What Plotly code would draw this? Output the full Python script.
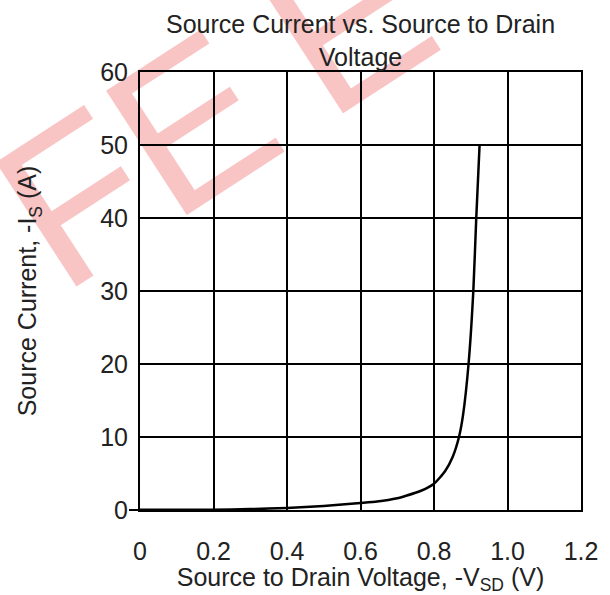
import plotly.graph_objects as go

# Data
vsd = [0.0, 0.2, 0.3, 0.4, 0.5, 0.6, 0.645, 0.7, 0.724, 0.763, 0.8, 0.83, 0.851,
       0.868, 0.879, 0.894, 0.907, 0.915, 0.924]
i_s = [0.02, 0.05, 0.12, 0.27, 0.55, 0.95, 1.15, 1.6, 1.95, 2.6, 3.6, 5.3, 7.3,
       10.0, 13.0, 20.0, 30.0, 40.0, 50.0]

x_ticks = [0, 0.2, 0.4, 0.6, 0.8, 1.0, 1.2]
x_tick_labels = ["0", "0.2", "0.4", "0.6", "0.8", "1.0", "1.2"]
y_ticks = [0, 10, 20, 30, 40, 50, 60]
y_tick_labels = ["0", "10", "20", "30", "40", "50", "60"]

FONT = "Liberation Sans, Arial, sans-serif"
TXT = "#222"

fig = go.Figure()
fig.add_trace(go.Scatter(x=vsd, y=i_s, mode="lines",
                         line=dict(color="black", width=2.5, shape="spline", smoothing=0.5),
                         showlegend=False, hoverinfo="skip"))
# invisible trace on the overlay axis (for the small tick at 0)
fig.add_trace(go.Scatter(x=[0], y=[0], yaxis="y2", mode="markers",
                         marker=dict(opacity=0), showlegend=False, hoverinfo="skip"))

fig.update_layout(
    width=610, height=595,
    margin=dict(l=140, r=23, t=72, b=78),
    paper_bgcolor="white", plot_bgcolor="rgba(0,0,0,0)",
    font=dict(family=FONT, size=25, color=TXT),
    xaxis=dict(range=[0, 1.2], tickvals=x_ticks, ticktext=x_tick_labels,
               showgrid=True, gridcolor="black", gridwidth=2,
               showline=True, linecolor="black", linewidth=2, mirror=True,
               ticks="outside", ticklen=18, tickcolor="rgba(0,0,0,0)",
               zeroline=False, tickfont=dict(size=25),
               title=dict(text="Source to Drain Voltage, -V<sub>SD</sub> (V)", standoff=0,
                          font=dict(family=FONT, size=25, color=TXT))),
    yaxis=dict(range=[0, 60], tickvals=y_ticks, ticktext=y_tick_labels,
               showgrid=True, gridcolor="black", gridwidth=2,
               showline=True, linecolor="black", linewidth=2, mirror=True,
               ticks="outside", ticklen=5, tickcolor="rgba(0,0,0,0)",
               zeroline=False, tickfont=dict(size=25),
               title=dict(text="Source Current, -I<sub>S</sub> (A)", standoff=56,
                          font=dict(family=FONT, size=25, color=TXT))),
    yaxis2=dict(range=[0, 60], overlaying="y", side="left", tickvals=[0],
                ticks="outside", ticklen=10, tickwidth=2, tickcolor="black",
                showticklabels=False, showgrid=False, showline=False, zeroline=False),
    annotations=[dict(text="Source Current vs. Source to Drain<br>Voltage",
                      xref="paper", yref="paper", x=0.5, y=1.145,
                      xanchor="center", yanchor="top", showarrow=False,
                      font=dict(family=FONT, size=25, color=TXT))],
    shapes=[dict(type="rect", xref="paper", yref="paper",
                 x0=-0.4555, x1=0.7445, y0=0.5565, y1=1.3565,
                 line=dict(width=0), fillcolor="rgba(0,0,0,0)", layer="below",
                 label=dict(text="FE\u2009E", textangle=-33, textposition="middle center",
                            font=dict(family=FONT, size=215, color="#f8c4c4")))],
)

fig.write_html("out.html", config={"displayModeBar": False},
               post_script="document.body.style.margin='0';")
